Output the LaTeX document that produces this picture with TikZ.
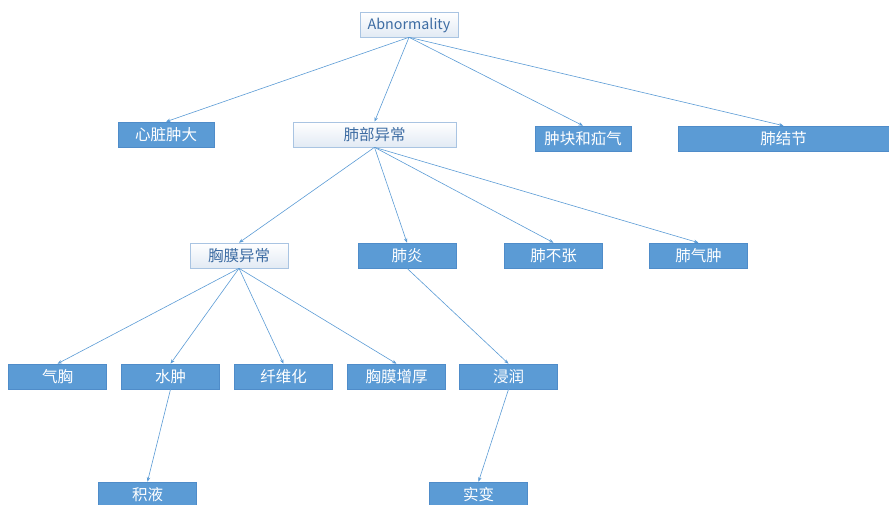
\documentclass[tikz,border=0pt]{standalone}
\usepackage{fontspec}
\setmainfont{Noto Sans CJK SC}
\usetikzlibrary{arrows.meta}
\definecolor{fillblue}{HTML}{5B9BD5}
\definecolor{edgeblue}{HTML}{4F8CC9}
\definecolor{lineblue}{HTML}{5B9BD5}
\definecolor{lightedge}{HTML}{A9C4E2}
\definecolor{lighttext}{HTML}{3D6CA3}
\definecolor{lightbot}{HTML}{E2EAF4}
\tikzset{
  base/.style={minimum height=25pt, inner sep=0pt, font=\fontsize{15.5}{18}\selectfont, line width=0.6pt},
  fbox/.style={base, fill=fillblue, draw=edgeblue, text=white},
  lbox/.style={base, top color=white, bottom color=lightbot, draw=lightedge, text=lighttext},
  conn/.style={draw=lineblue, line width=0.6pt, -{Stealth[length=4.5pt,width=3.5pt]}}
}
\begin{document}
\begin{tikzpicture}[x=1pt,y=-1pt]
\useasboundingbox (0,0) rectangle (889,504);
\node[lbox, minimum width=98pt, font=\fontsize{14.3}{17}\selectfont, text height=9pt, text depth=0pt] (abn) at (409,24.5) {Abnormality};
\node[fbox, minimum width=96pt] (xzzd) at (166,134.5) {心脏肿大};
\node[lbox, minimum width=163pt] (fbyc) at (374.5,134.5) {肺部异常};
\node[fbox, minimum width=96pt] (zkhq) at (583,138.5) {肿块和疝气};
\node[fbox, minimum width=211pt] (fjj) at (783.5,138.5) {肺结节};
\node[lbox, minimum width=98pt] (xmyc) at (239,255.5) {胸膜异常};
\node[fbox, minimum width=98pt] (fy) at (407,255.5) {肺炎};
\node[fbox, minimum width=98pt] (fbz) at (553.5,255.5) {肺不张};
\node[fbox, minimum width=98pt] (fqz) at (698.5,255.5) {肺气肿};
\node[fbox, minimum width=98pt] (qx) at (57.5,376.5) {气胸};
\node[fbox, minimum width=98pt] (sz) at (170.5,376.5) {水肿};
\node[fbox, minimum width=98pt] (xwh) at (283.5,376.5) {纤维化};
\node[fbox, minimum width=98pt] (xmzh) at (396.5,376.5) {胸膜增厚};
\node[fbox, minimum width=98pt] (jr) at (508.5,376.5) {浸润};
\node[fbox, minimum width=98pt] (jy) at (147.5,494.5) {积液};
\node[fbox, minimum width=98pt] (sb) at (478.5,494.5) {实变};
\draw[conn] (abn.south) -- (xzzd.north);
\draw[conn] (abn.south) -- (fbyc.north);
\draw[conn] (abn.south) -- (zkhq.north);
\draw[conn] (abn.south) -- (fjj.north);
\draw[conn] (fbyc.south) -- (xmyc.north);
\draw[conn] (fbyc.south) -- (fy.north);
\draw[conn] (fbyc.south) -- (fbz.north);
\draw[conn] (fbyc.south) -- (fqz.north);
\draw[conn] (xmyc.south) -- (qx.north);
\draw[conn] (xmyc.south) -- (sz.north);
\draw[conn] (xmyc.south) -- (xwh.north);
\draw[conn] (xmyc.south) -- (xmzh.north);
\draw[conn] (fy.south) -- (jr.north);
\draw[conn] (sz.south) -- (jy.north);
\draw[conn] (jr.south) -- (sb.north);
\end{tikzpicture}
\end{document}
